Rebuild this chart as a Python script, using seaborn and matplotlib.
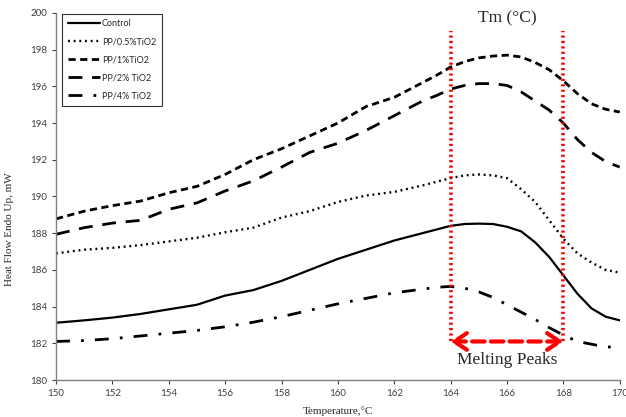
"""DSC melting curves of PP/TiO2 samples."""
import matplotlib
matplotlib.use("Agg")
import matplotlib.pyplot as plt
import pandas as pd
import seaborn as sns

temps = [150, 151, 152, 153, 154, 155, 156, 157, 158, 159, 160, 161, 162, 163,
         163.5, 164, 164.5, 165, 165.5, 166, 166.5, 167, 167.5, 168, 168.5, 169, 169.5, 170]
control = [183.12, 183.25, 183.4, 183.6, 183.85, 184.1, 184.6, 184.9, 185.4, 186.0,
           186.6, 187.1, 187.6, 188.0,
           188.2, 188.4, 188.5, 188.52, 188.5, 188.35, 188.1, 187.5, 186.7, 185.7,
           184.7, 183.9, 183.45, 183.25]
pp_05 = [186.9, 187.1, 187.2, 187.35, 187.55, 187.75, 188.05, 188.3, 188.85, 189.2,
         189.7, 190.05, 190.25, 190.6,
         190.8, 191.0, 191.15, 191.2, 191.15, 191.0, 190.4, 189.7, 188.7, 187.7,
         186.9, 186.4, 186.0, 185.85]
pp_1 = [188.78, 189.2, 189.5, 189.75, 190.2, 190.55, 191.2, 192.0, 192.6, 193.3,
        194.0, 194.9, 195.4, 196.2,
        196.6, 197.05, 197.35, 197.55, 197.65, 197.7, 197.6, 197.3, 196.9, 196.3,
        195.6, 195.05, 194.75, 194.6]
pp_2 = [187.94, 188.3, 188.55, 188.7, 189.3, 189.65, 190.3, 190.85, 191.6, 192.4,
        192.9, 193.6, 194.4, 195.2,
        195.5, 195.85, 196.05, 196.15, 196.15, 196.05, 195.7, 195.2, 194.7, 194.0,
        193.1, 192.4, 191.9, 191.6]
pp_4 = [182.1, 182.15, 182.25, 182.4, 182.55, 182.7, 182.9, 183.15, 183.45, 183.8,
        184.15, 184.45, 184.75, 184.95,
        185.05, 185.1, 185.0, 184.8, 184.5, 184.1, 183.7, 183.3, 182.85, 182.45,
        182.1, 181.95, 181.8, 181.8]

labels = ["Control", "PP/0.5%TiO2", "PP/1%TiO2", "PP/2% TiO2", "PP/4% TiO2"]
series = [control, pp_05, pp_1, pp_2, pp_4]
styles = ["-", (0, (0.8, 1.6)), (0, (2.6, 1.6)), (0, (5, 3.5)), (0, (5, 4, 1, 4))]
widths = [1.6, 1.7, 2.0, 2.0, 2.0]

tm_low, tm_high = 164, 168

sns.set_style("ticks")
plt.rcParams["font.family"] = ["Lato", "DejaVu Sans"]

fig = plt.figure(figsize=(6.26, 4.17), dpi=100)
ax = fig.add_axes([0.0895, 0.0887, 0.9005, 0.8803])

for lab, vals, ls, lw in zip(labels, series, styles, widths):
    df = pd.DataFrame({"T": temps, "HF": vals})
    sns.lineplot(data=df, x="T", y="HF", ax=ax, color="black", linestyle=ls,
                 linewidth=lw, label=lab)

# melting window
for t in (tm_low, tm_high):
    ax.plot([t, t], [182.1, 199.0], color="red", linestyle=(0, (0.6, 0.9)), linewidth=2.6)
ax.annotate("", xy=(tm_low, 182.1), xytext=(tm_high, 182.1),
            arrowprops=dict(arrowstyle="<->, head_length=0.45, head_width=0.3",
                            color="red", lw=3, linestyle=(0, (3, 1.5)),
                            mutation_scale=20, shrinkA=0, shrinkB=0))
ax.text(166, 181.1, "Melting Peaks", ha="center", va="center", fontsize=12.5,
        family="Liberation Serif")
ax.text(166, 199.7, "Tm (°C)", ha="center", va="center", fontsize=12.5,
        family="Liberation Serif")

ax.set_xlim(150, 170)
ax.set_ylim(180, 200)
ax.set_xticks(range(150, 171, 2))
ax.set_yticks(range(180, 201, 2))
ax.tick_params(labelsize=7, colors="#404040", length=3, width=0.8)
for s in ("top", "right"):
    ax.spines[s].set_visible(False)
for s in ("left", "bottom"):
    ax.spines[s].set_color("#7f7f7f")
    ax.spines[s].set_linewidth(1)

ax.set_xlabel("Temperature,°C", family="Liberation Serif", fontsize=8, labelpad=6)
ax.set_ylabel("Heat Flow Endo Up, mW", family="Liberation Serif", fontsize=8)
ax.yaxis.set_label_coords(-0.075, 0.41)

leg = ax.legend(loc="upper left", bbox_to_anchor=(0.011, 0.998), fontsize=6.5,
                frameon=True, fancybox=False, handlelength=3.6, handletextpad=0.2,
                labelspacing=1.0, borderpad=0.6, borderaxespad=0)
leg.get_frame().set_edgecolor("black")
leg.get_frame().set_linewidth(0.8)

plt.savefig("out.png", dpi=100)
plt.close()
